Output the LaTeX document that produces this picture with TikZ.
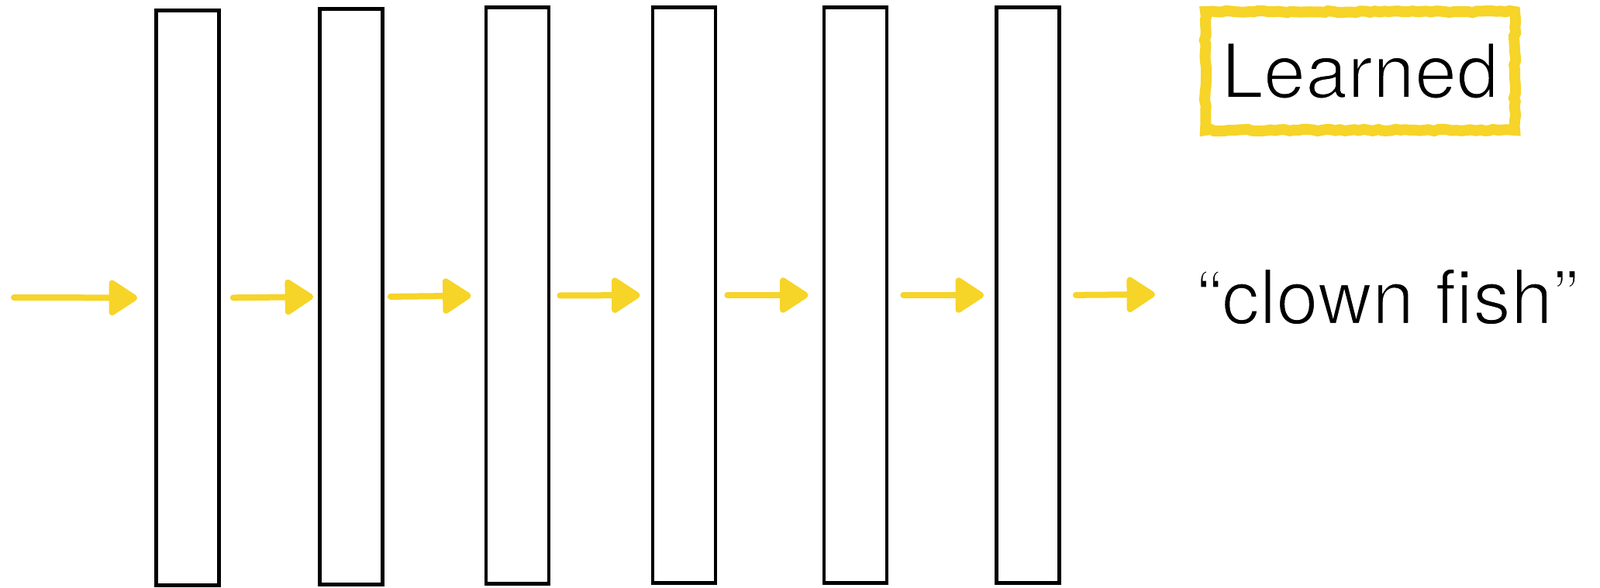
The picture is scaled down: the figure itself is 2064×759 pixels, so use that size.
\documentclass[tikz,border=0pt]{standalone}
\usepackage{fontspec}
\setmainfont{TeX Gyre Heros}
\usetikzlibrary{arrows.meta,decorations.pathmorphing}
\definecolor{chalk}{RGB}{246,212,40}
\newcommand\thinned[1]{\special{pdf:literal q 2 Tr 1 1 1 RG 1.2 w}#1\special{pdf:literal Q}}
\begin{document}
\begin{tikzpicture}[x=0.5pt,y=-0.5pt,
  layer/.style={draw=black,line width=2.4pt,fill=white,inner sep=0pt,minimum width=40.5pt,minimum height=371.5pt},
  flow/.style={draw=chalk,line width=4pt,line cap=round,-{Triangle[length=20pt,width=25pt,round]}},
  label/.style={font=\fontsize{48.75}{58}\selectfont,inner sep=0pt}]
\useasboundingbox (0,0) rectangle (2064,759);
\node[layer,minimum height=371pt] (b1) at (242,384.5) {};
\node[layer] (b2) at (453,383) {};
\node[layer,minimum height=372pt] (b3) at (667.5,381.5) {};
\node[layer] (b4) at (882.5,381) {};
\node[layer] (b5) at (1103.5,381) {};
\node[layer] (b6) at (1326,381) {};
\coordinate (in) at (18,384);
\coordinate (out) at (1490,380);
\draw[flow,shorten >=11pt] (in) -- (b1.west);
\draw[flow,shorten <=8pt,shorten >=3pt] (b1.east) -- (b2.west);
\draw[flow,shorten <=4pt,shorten >=8.5pt] (b2.east) -- (b3.west);
\draw[flow,shorten <=6pt,shorten >=7pt] (b3.east) -- (b4.west);
\draw[flow,shorten <=6.5pt,shorten >=9pt] (b4.east) -- (b5.west);
\draw[flow,shorten <=9.5pt,shorten >=7pt] (b5.east) -- (b6.west);
\draw[flow,shorten <=9.5pt] (b6.east) -- (out);
\node[label,draw=chalk,line width=7pt,minimum width=199.5pt,minimum height=76.5pt,
  decorate,decoration={random steps,segment length=3pt,amplitude=0.6pt}] (learned) at (1754.5,91.5) {\thinned{Learned}};
\node[label,anchor=base] (answer) at (1789.5,418) {\thinned{“clown fish”}};
\end{tikzpicture}
\end{document}
